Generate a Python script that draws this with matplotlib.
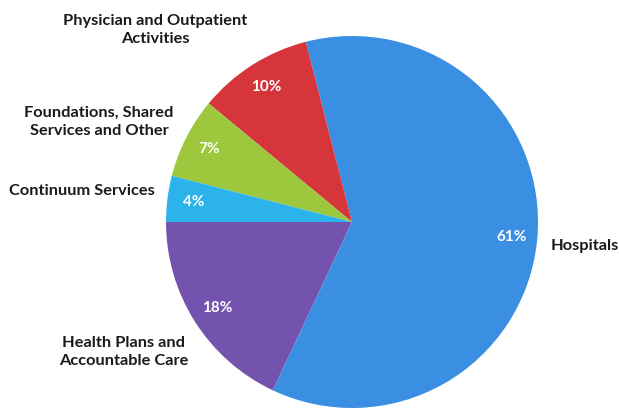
import matplotlib
matplotlib.use("Agg")
import matplotlib.pyplot as plt

# slice data, counterclockwise starting from the 9 o'clock position
labels = ["Health Plans and\nAccountable Care", "Hospitals",
          "Physician and Outpatient\nActivities",
          "Foundations, Shared\nServices and Other", "Continuum Services"]
shares = [18, 61, 10, 7, 4]
colors = ["#7453ae", "#3a8fe2", "#d5353b", "#9dc73c", "#2db3ec"]

# name label centres (pixels, y measured from the top)
label_xy = [(124, 352), (585, 246), (155, 30), (99, 122), (82, 191)]

W, H = 619, 413
fig = plt.figure(figsize=(W / 100, H / 100), dpi=100)
ax = fig.add_axes([0, 0, 1, 1])

cx, cy, r = 352, H - 222, 186
wedges, names, pcts = ax.pie(
    shares, colors=colors, startangle=180, counterclock=True,
    center=(cx, cy), radius=r, frame=True,
    autopct="%d%%", pctdistance=0.86,
    wedgeprops=dict(linewidth=0),
    textprops=dict(color="white", fontsize=11, fontweight="bold", family="Lato"),
)
ax.set_xlim(0, W)
ax.set_ylim(0, H)
ax.set_aspect("equal")
ax.axis("off")

for lab, (x, y) in zip(labels, label_xy):
    ax.text(x, H - y, lab, ha="center", va="center", fontsize=11.8,
            fontweight="bold", family="Lato", color="#1a1a1a", linespacing=1.45)

fig.savefig("out.png", dpi=100)
